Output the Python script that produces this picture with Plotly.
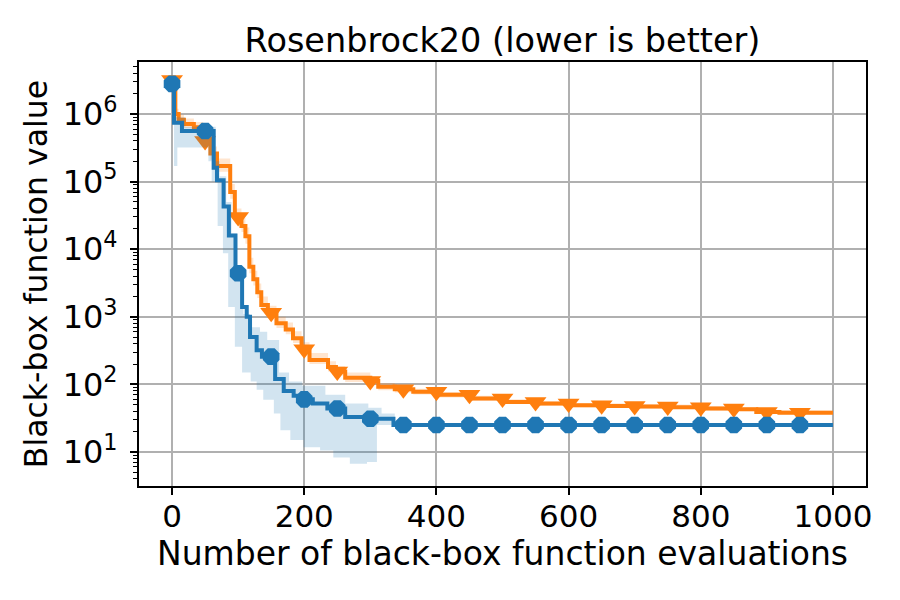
import numpy as np
import plotly.graph_objects as go

# Best value found so far (step curves)
blue_x = [0, 3, 15, 63, 68, 78, 86, 96, 106, 113, 118, 128, 136, 156, 169,
          184, 196, 213, 235, 262, 292, 335, 1000]
blue_y = [2.8e6, 7.4e5, 5.6e5, 1.6e5, 1.05e5, 4.3e4, 1.6e4, 4.4e3, 1.4e3,
          1.0e3, 500, 320, 257, 120, 80, 68, 60, 52, 44, 33, 31, 25, 25]

blue_lo_x = [0, 3, 8, 55, 60, 69, 77, 85, 95, 106, 119, 128, 138, 154, 164,
             179, 199, 224, 244, 269, 295, 310, 1000]
blue_lo_y = [2.8e6, 1.7e5, 3.2e5, 2.0e5, 1.0e5, 2.2e4, 8.7e3, 1.4e3, 360,
             150, 110, 83, 59, 37, 21, 15, 11.7, 10.5, 8.3, 6.7, 7.1, 25, 25]

blue_hi_x = [0, 5, 20, 66, 72, 82, 90, 98, 108, 118, 133, 144, 162, 177,
             197, 232, 262, 297, 317, 337, 1000]
blue_hi_y = [3.0e6, 9.0e5, 6.5e5, 2.0e5, 1.2e5, 5.0e4, 1.7e4, 4.0e3, 1.1e3,
             700, 600, 455, 150, 110, 95, 70, 52, 45, 37, 25, 25]

orange_x = [0, 5, 10, 18, 33, 47, 58, 68, 88, 95, 105, 111, 117, 123, 129,
            135, 145, 158, 172, 183, 196, 208, 236, 248, 262, 300, 312, 337,
            365, 401, 451, 501, 552, 602, 652, 703, 753, 803, 854, 884, 919,
            1000]
orange_y = [3.2e6, 1.0e6, 8.2e5, 7.1e5, 6.4e5, 4.0e5, 2.6e5, 1.7e5, 7.0e4,
            3.0e4, 2.2e4, 1.55e4, 5.5e3, 3.6e3, 2.3e3, 1.5e3, 1.15e3, 800,
            650, 480, 330, 230, 180, 155, 125, 112, 92, 85, 78, 70, 62, 55,
            52, 49, 48, 47, 46, 44, 43, 39, 38, 38]
orange_lo = [3.0e6, 8.5e5, 7.0e5, 6.2e5, 5.6e5, 3.3e5, 2.1e5, 1.4e5, 5.6e4,
             2.4e4, 1.8e4, 1.2e4, 4.4e3, 2.9e3, 1.9e3, 1.25e3, 950, 680, 550,
             410, 280, 200, 155, 135, 108, 98, 82, 76, 71, 64, 57, 51, 48, 46,
             45, 44, 43, 41, 40, 37, 36, 36]
orange_hi = [3.5e6, 1.2e6, 9.8e5, 8.6e5, 7.6e5, 5.0e5, 3.3e5, 2.2e5, 9.2e4,
             4.0e4, 2.9e4, 2.1e4, 7.5e3, 4.8e3, 3.1e3, 2.0e3, 1.45e3, 1.0e3,
             820, 610, 420, 290, 220, 185, 150, 130, 105, 95, 86, 77, 68, 60,
             56, 53, 52, 51, 50, 48, 46, 42, 41, 41]

# evaluations where a marker is drawn
marker_evals = [0, 50, 100, 150, 200, 250, 300, 350, 400, 450, 500, 550, 600,
                650, 700, 750, 800, 850, 900, 950]

# decades labelled on the log axis
ytick_exponents = [1, 2, 3, 4, 5, 6]
xtick_values = [0, 200, 400, 600, 800, 1000]

BLUE = '#1f77b4'
ORANGE = '#ff7f0e'
FONT = 'DejaVu Sans'

# the page puts the figure 8px in from the window corner
W, H = 892, 592


def stairs(x, y):
    """
    Turns step data into explicit staircase vertices (post steps).

    """
    x = np.asarray(x, dtype=float)
    y = np.asarray(y, dtype=float)
    return np.repeat(x, 2)[1:], np.repeat(y, 2)[:-1]


def lookup(x, y, at):
    """
    Value of the step curve at the given evaluations.

    """
    idx = np.searchsorted(np.asarray(x), np.asarray(at), side='right') - 1
    return np.asarray(y)[idx]


def add_band(fig, lo_x, lo_y, hi_x, hi_y, color):
    hx, hy = stairs(hi_x, hi_y)
    lx, ly = stairs(lo_x, lo_y)
    fig.add_trace(
        go.Scatter(
            x=np.concatenate([hx, lx[::-1]]),
            y=np.concatenate([hy, ly[::-1]]),
            mode='lines',
            fill='toself',
            fillcolor=color,
            line=dict(width=0),
            hoverinfo='skip'
        )
    )


def add_curve(fig, x, y, color, symbol, size):
    fig.add_trace(
        go.Scatter(
            x=x, y=y,
            mode='lines',
            line=dict(color=color, width=4, shape='hv')
        )
    )
    fig.add_trace(
        go.Scatter(
            x=marker_evals,
            y=lookup(x, y, marker_evals),
            mode='markers',
            marker=dict(symbol=symbol, size=size, color=color,
                        line=dict(width=0))
        )
    )


fig = go.Figure()
add_band(fig, orange_x, orange_lo, orange_x, orange_hi,
         'rgba(255,127,14,0.2)')
add_curve(fig, orange_x, orange_y, ORANGE, 'triangle-down', 19)
add_band(fig, blue_lo_x, blue_lo_y, blue_hi_x, blue_hi_y,
         'rgba(31,119,180,0.2)')
add_curve(fig, blue_x, blue_y, BLUE, 'octagon', 18)

axis_style = dict(
    showline=True, linecolor='black', linewidth=2, mirror=True,
    showgrid=True, gridcolor='#b0b0b0', gridwidth=1.5,
    ticks='outside', ticklen=7, tickwidth=1.6, tickcolor='black',
    zeroline=False,
)
minor_vals = [k * 10.0 ** e for e in range(0, 7) for k in range(2, 10)]

fig.update_xaxes(
    range=[-50, 1050], tickmode='array', tickvals=xtick_values,
    tickfont=dict(family=FONT, size=31, color='black'),
    ticklabelstandoff=-5,
    title=dict(text='Number of black-box function evaluations',
               font=dict(family=FONT, size=33, color='black'), standoff=2),
    **axis_style
)
fig.update_yaxes(
    type='log', range=[0.496, 6.77], tickmode='array',
    tickvals=[10.0 ** e for e in ytick_exponents],
    ticktext=['10<sup>%d</sup>' % e for e in ytick_exponents],
    tickfont=dict(family=FONT, size=32, color='black'),
    ticklabelstandoff=6,
    minor=dict(ticks='outside', ticklen=4, tickwidth=1.2, tickcolor='black',
               tickmode='array', tickvals=minor_vals, showgrid=False),
    title=dict(text='Black-box function value',
               font=dict(family=FONT, size=31.5, color='black'), standoff=6),
    **axis_style
)
fig.update_layout(
    title=dict(text='Rosenbrock20 (lower is better)', x=0.5, xref='paper',
               xanchor='center', y=1 - 32 / H, yref='container',
               yanchor='middle',
               font=dict(family=FONT, size=33.5, color='black')),
    paper_bgcolor='white',
    plot_bgcolor='white',
    width=W, height=H,
    margin=dict(l=131, r=34, t=54, b=114),
    showlegend=False)
fig.write_html('out.html')
